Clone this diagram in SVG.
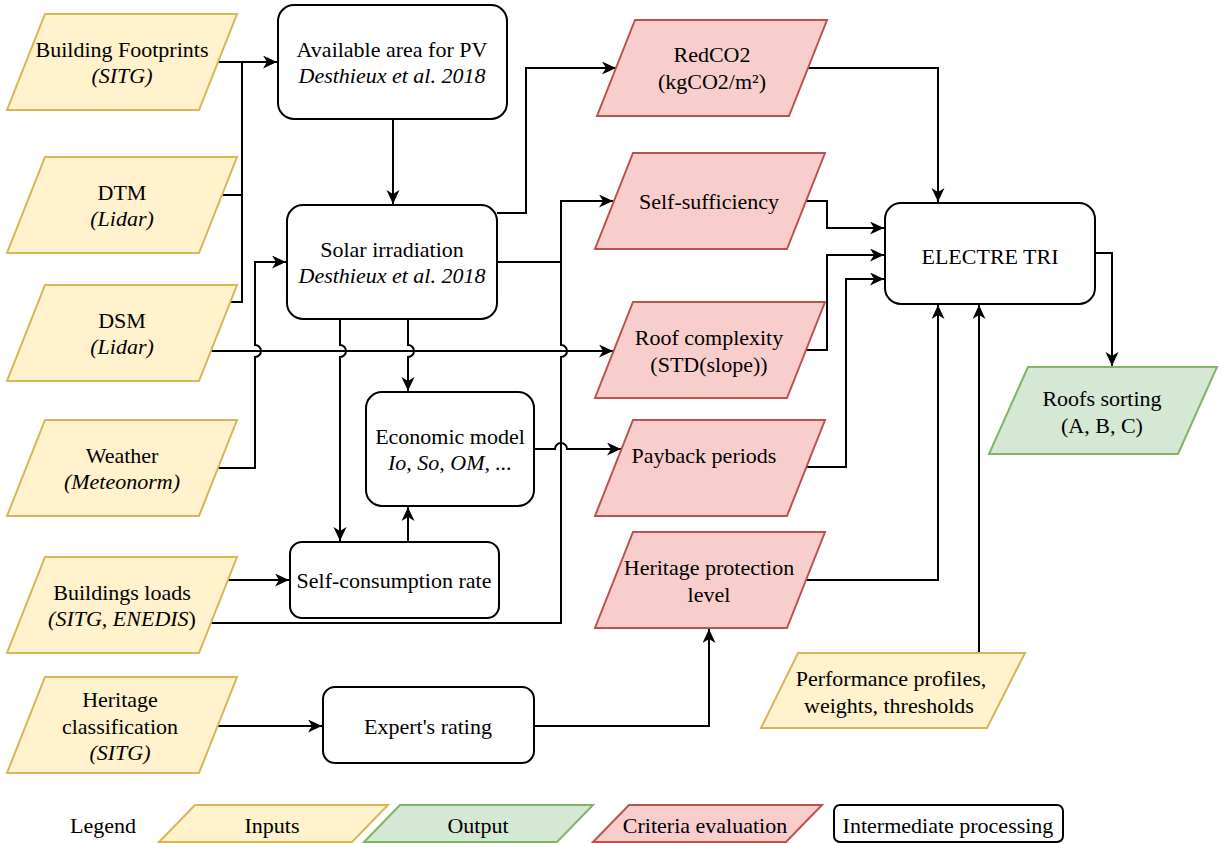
<svg xmlns="http://www.w3.org/2000/svg" width="1228" height="843" viewBox="0 0 1228 843">
<style>
text{font-size:22px;fill:#000;text-anchor:middle}
.it{font-style:italic}
.in{fill:#fff2cc;stroke:#d6b656;stroke-width:2}
.cr{fill:#f8cecc;stroke:#b85450;stroke-width:2}
.out{fill:#d5e8d4;stroke:#82b366;stroke-width:2}
.box{fill:#fff;stroke:#000;stroke-width:2}
.ln{fill:none;stroke:#000;stroke-width:2}
.ar{marker-end:url(#arr)}
</style>
<defs>
<marker id="arr" markerUnits="userSpaceOnUse" markerWidth="16" markerHeight="14" refX="14" refY="6.5" orient="auto">
<path d="M0,0 L14,6.5 L0,13 L4,6.5 Z" fill="#000"/>
</marker>
</defs>
<rect width="1228" height="843" fill="#fff"/>

<g id="connectors">
<path class="ln ar" d="M218,62 H277"/>
<path class="ln" d="M222,195 H242"/>
<path class="ln" d="M230,302 H242 V62"/>
<path class="ln ar" d="M218,468 H255 V357 A6,6 0 0 0 255,345 V262 H286"/>
<path class="ln ar" d="M211,351 H613"/>
<path class="ln ar" d="M393,119 V204"/>
<path class="ln ar" d="M497,213 H526 V68 H616"/>
<path class="ln" d="M497,262 H561"/>
<path class="ln ar" d="M211,623 H561 V357 A6,6 0 0 0 561,345 V201 H613"/>
<path class="ln ar" d="M340,319 V345 A6,6 0 0 1 340,357 V541"/>
<path class="ln ar" d="M408,319 V345 A6,6 0 0 1 408,357 V391"/>
<path class="ln ar" d="M408,542 V507"/>
<path class="ln ar" d="M228,580 H289"/>
<path class="ln ar" d="M534,449 H555 A6,6 0 0 1 567,449 H621"/>
<path class="ln ar" d="M806,201 H827 V228 H884"/>
<path class="ln ar" d="M806,350 H827 V255 H884"/>
<path class="ln ar" d="M806,467 H846 V279 H884"/>
<path class="ln ar" d="M806,580 H938 V305"/>
<path class="ln ar" d="M808,68 H938 V202"/>
<path class="ln ar" d="M979,653 V305"/>
<path class="ln ar" d="M1095,253 H1112 V366"/>
<path class="ln ar" d="M218,726 H322"/>
<path class="ln ar" d="M534,726 H709 V629"/>
</g>

<g font-family="Liberation Serif, serif">
<g id="building-footprints">
<polygon class="in" points="45,14 237,14 199,110 7,110"/>
<text x="122" y="57">Building Footprints</text>
<text x="122" y="83" class="it">(SITG)</text>
</g>
<g id="dtm">
<polygon class="in" points="45,157 237,157 199,253 7,253"/>
<text x="122" y="200">DTM</text>
<text x="122" y="226" class="it">(Lidar)</text>
</g>
<g id="dsm">
<polygon class="in" points="45,285 237,285 199,381 7,381"/>
<text x="122" y="328">DSM</text>
<text x="122" y="354" class="it">(Lidar)</text>
</g>
<g id="weather">
<polygon class="in" points="45,420 237,420 199,516 7,516"/>
<text x="122" y="463">Weather</text>
<text x="122" y="489" class="it">(Meteonorm)</text>
</g>
<g id="buildings-loads">
<polygon class="in" points="45,557 237,557 199,653 7,653"/>
<text x="122" y="600">Buildings loads</text>
<text x="122" y="626"><tspan class="it">(SITG, ENEDIS</tspan>)</text>
</g>
<g id="heritage-classification">
<polygon class="in" points="45,677 237,677 199,773 7,773"/>
<text x="120" y="707">Heritage</text>
<text x="120" y="734">classification</text>
<text x="120" y="760" class="it">(SITG)</text>
</g>

<g id="available-area">
<rect class="box" x="278" y="5" width="229" height="114" rx="16"/>
<text x="392" y="57">Available area for PV</text>
<text x="392" y="83" class="it">Desthieux et al. 2018</text>
</g>
<g id="solar-irradiation">
<rect class="box" x="287" y="205" width="210" height="114" rx="16"/>
<text x="392" y="257">Solar irradiation</text>
<text x="392" y="283" class="it">Desthieux et al. 2018</text>
</g>
<g id="economic-model">
<rect class="box" x="366" y="392" width="168" height="114" rx="16"/>
<text x="450" y="444">Economic model</text>
<text x="450" y="470" class="it">Io, So, OM, ...</text>
</g>
<g id="self-consumption">
<rect class="box" x="290" y="542" width="209" height="76" rx="12"/>
<text x="394" y="588">Self-consumption rate</text>
</g>
<g id="experts-rating">
<rect class="box" x="323" y="687" width="211" height="76" rx="12"/>
<text x="428" y="734">Expert's rating</text>
</g>
<g id="electre-tri">
<rect class="box" x="885" y="203" width="210" height="101" rx="16"/>
<text x="990" y="264">ELECTRE TRI</text>
</g>

<g id="redco2">
<polygon class="cr" points="635,20 827,20 789,116 597,116"/>
<text x="712" y="62">RedCO2</text>
<text x="712" y="89">(kgCO2/m²)</text>
</g>
<g id="self-sufficiency">
<polygon class="cr" points="633,153 825,153 787,249 595,249"/>
<text x="709" y="209">Self-sufficiency</text>
</g>
<g id="roof-complexity">
<polygon class="cr" points="633,302 825,302 787,398 595,398"/>
<text x="709" y="345">Roof complexity</text>
<text x="709" y="372">(STD(slope))</text>
</g>
<g id="payback">
<polygon class="cr" points="633,420 825,420 787,516 595,516"/>
<text x="704" y="463">Payback periods</text>
</g>
<g id="heritage-protection">
<polygon class="cr" points="633,532 825,532 787,628 595,628"/>
<text x="709" y="575">Heritage protection</text>
<text x="709" y="602">level</text>
</g>

<g id="roofs-sorting">
<polygon class="out" points="1028,367 1217,367 1178,454 989,454"/>
<text x="1102" y="406">Roofs sorting</text>
<text x="1102" y="433">(A, B, C)</text>
</g>
<g id="performance-profiles">
<polygon class="in" points="798,653 1025,653 987,728 761,728"/>
<text x="891" y="686">Performance profiles,</text>
<text x="889" y="713">weights, thresholds</text>
</g>

<g id="legend">
<text x="103" y="833">Legend</text>
<polygon class="in" points="195,805 388,805 352,842 159,842"/>
<text x="272" y="833">Inputs</text>
<polygon class="out" points="400,805 593,805 557,842 364,842"/>
<text x="478" y="833">Output</text>
<polygon class="cr" points="629,805 822,805 786,842 593,842"/>
<text x="705" y="833">Criteria evaluation</text>
<rect class="box" x="834" y="805" width="229" height="37" rx="6"/>
<text x="948" y="833">Intermediate processing</text>
</g>
</g>
</svg>
